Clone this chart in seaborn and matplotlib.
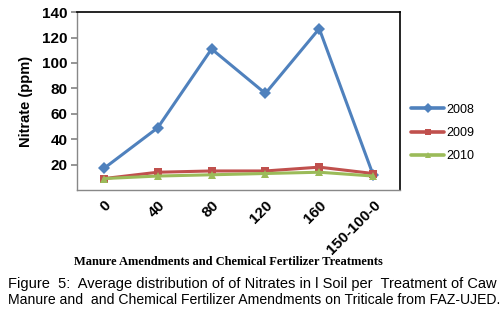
import pandas as pd
import matplotlib
matplotlib.use("Agg")
import matplotlib.pyplot as plt
import seaborn as sns

# Tratamentos (eixo x) e valores médios de nitrato (ppm) por ano
tratamentos = ["0", "40", "80", "120", "160", "150-100-0"]
anos = ["2008", "2009", "2010"]
nitrato_2008 = [17, 49, 111, 76, 127, 12]
nitrato_2009 = [9, 14, 15, 15, 18, 13]
nitrato_2010 = [9, 11, 12, 13, 14, 11]

cores = {"2008": "#4F81BD", "2009": "#C0504D", "2010": "#9BBB59"}
marcadores = {"2008": "D", "2009": "s", "2010": "^"}

df = pd.DataFrame({
    "trat": tratamentos * 3,
    "pos": list(range(len(tratamentos))) * 3,
    "ano": [a for a in anos for _ in tratamentos],
    "nitrato": nitrato_2008 + nitrato_2009 + nitrato_2010,
})

sns.set_theme(style="white")
plt.rcParams["font.family"] = ["Liberation Sans", "DejaVu Sans"]
plt.rcParams["text.color"] = "black"
plt.rcParams["xtick.color"] = "black"
plt.rcParams["ytick.color"] = "black"
plt.rcParams["axes.labelcolor"] = "black"

fig = plt.figure(figsize=(5, 3.11), dpi=100)
ax = fig.add_axes([0.154, 0.389, 0.646, 0.572])

sns.lineplot(data=df, x="pos", y="nitrato", hue="ano", style="ano",
             palette=cores, markers=marcadores, dashes=False,
             linewidth=2.2, markersize=6, markeredgewidth=0, ax=ax)

ax.set_xlim(-0.5, 5.5)
ax.set_ylim(0, 140)
ax.set_yticks([20, 40, 60, 80, 100, 120, 140])
ax.set_yticklabels([str(v) for v in [20, 40, 60, 80, 100, 120, 140]],
                   fontsize=11, fontweight="bold")
ax.set_xticks(range(len(tratamentos)))
ax.set_xticklabels(tratamentos, rotation=45, ha="right", rotation_mode="anchor",
                   fontsize=11, fontweight="bold")
ax.set_xticks([i - 0.5 for i in range(len(tratamentos) + 1)], minor=True)
ax.tick_params(axis="x", which="major", length=0, pad=6)
ax.tick_params(axis="x", which="minor", length=4, color="#888888", direction="out")
ax.tick_params(axis="y", length=4, color="#888888", direction="out", left=True, pad=3)

for lado in ["top", "right"]:
    ax.spines[lado].set_color("black")
    ax.spines[lado].set_linewidth(1.2)
for lado in ["left", "bottom"]:
    ax.spines[lado].set_color("#888888")
    ax.spines[lado].set_linewidth(1.0)

ax.set_xlabel("")
ax.set_ylabel("Nitrate (ppm)", fontsize=10.5, fontweight="bold", labelpad=6)

leg = ax.legend(loc="center left", bbox_to_anchor=(1.0, 0.32), frameon=False,
                fontsize=9, handlelength=2.6, handletextpad=0.2,
                labelspacing=0.9, markerscale=0.8)
for h in leg.legend_handles:
    h.set_linewidth(2.6)

fig.text(0.456, 0.158, "Manure Amendments and Chemical Fertilizer Treatments",
         ha="center", va="center", fontsize=9, fontweight="bold",
         family=["Liberation Serif", "DejaVu Serif"])
fig.text(0.016, 0.088, "Figure  5:  Average distribution of of Nitrates in l Soil per  Treatment of Caw",
         ha="left", va="center", fontsize=10.5)
fig.text(0.016, 0.036, "Manure and  and Chemical Fertilizer Amendments on Triticale from FAZ-UJED.",
         ha="left", va="center", fontsize=10.1)

fig.savefig("out.png", dpi=100)
